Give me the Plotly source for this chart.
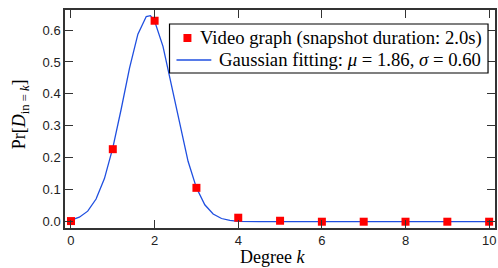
import plotly.graph_objects as go

# Data
degree_k = [0, 1, 2, 3, 4, 5, 6, 7, 8, 9, 10]
pr_video = [0.002, 0.227, 0.629, 0.106, 0.0125, 0.003, 0.0, 0.0, 0.0, 0.0, 0.0]

fit_x = [0.0, 0.2, 0.4, 0.6, 0.8, 1.0, 1.2, 1.4, 1.6, 1.8, 1.9, 2.0, 2.2, 2.4, 2.6,
         2.8, 3.0, 3.2, 3.4, 3.6, 3.8, 4.0, 4.5, 5.0, 6.0, 7.0, 8.0, 9.0, 10.0]
fit_y = [0.005, 0.014, 0.033, 0.071, 0.135, 0.231, 0.352, 0.481, 0.587, 0.642, 0.645,
         0.628, 0.549, 0.430, 0.301, 0.189, 0.106, 0.053, 0.024, 0.010, 0.004, 0.001,
         0.0, 0.0, 0.0, 0.0, 0.0, 0.0, 0.0]

x_ticks = [0, 2, 4, 6, 8, 10]
y_ticks = [0.0, 0.1, 0.2, 0.3, 0.4, 0.5, 0.6]

legend_labels = ["Video graph (snapshot duration: 2.0s)",
                 "Gaussian fitting: <i>μ</i> = 1.86, <i>σ</i> = 0.60"]

RED = "#ff0000"
BLUE = "#1f4fe0"
AXIS = "#333333"
SERIF = "Liberation Serif, Times New Roman, serif"
SANS = "Liberation Sans, Arial, sans-serif"

fig = go.Figure()
fig.add_trace(go.Scatter(x=fit_x, y=fit_y, mode="lines",
                         line=dict(color=BLUE, width=1.3), showlegend=False))
fig.add_trace(go.Scatter(x=degree_k, y=pr_video, mode="markers",
                         marker=dict(symbol="square", size=8, color=RED, line=dict(width=0)),
                         showlegend=False, cliponaxis=False))

W, H = 498, 268
L, R, T, B = 65, 1, 10, 40
pw, ph = W - L - R, H - T - B


def px(x):
    return (x - L) / pw


def py(y):
    return (H - B - y) / ph


axis_common = dict(showline=True, linecolor=AXIS, linewidth=1.5, mirror="ticks",
                   ticks="inside", ticklen=8, tickwidth=1.2, tickcolor=AXIS,
                   showgrid=False, zeroline=False, ticklabeloverflow="allow",
                   tickfont=dict(family=SANS, size=13, color="#222222"))

fig.update_layout(
    width=W, height=H,
    margin=dict(l=L, r=R, t=T, b=B),
    paper_bgcolor="white", plot_bgcolor="white",
    xaxis=dict(range=[-0.143, 10.14], tickvals=x_ticks, ticktext=[str(v) for v in x_ticks],
               **axis_common),
    yaxis=dict(range=[-0.0197, 0.6626], tickvals=y_ticks,
               ticktext=[f"{v:.1f}" for v in y_ticks], **axis_common),
    showlegend=False,
)

# Manual legend (right-aligned text as in the reference)
fig.add_shape(type="rect", xref="paper", yref="paper",
              x0=px(170), x1=px(490), y0=py(73), y1=py(24),
              line=dict(color="#000000", width=1.2), fillcolor="white", layer="above")
fig.add_shape(type="rect", xref="paper", yref="paper",
              x0=px(184), x1=px(192), y0=py(42), y1=py(34),
              line=dict(width=0), fillcolor=RED, layer="above")
fig.add_shape(type="line", xref="paper", yref="paper",
              x0=px(177), x1=px(212), y0=py(60), y1=py(60),
              line=dict(color=BLUE, width=1.3), layer="above")
fig.add_annotation(x=px(486), y=py(38), xref="paper", yref="paper", text=legend_labels[0],
                   showarrow=False, xanchor="right", yanchor="middle",
                   font=dict(family=SERIF, size=18.7, color="#000000"))
fig.add_annotation(x=px(485), y=py(60), xref="paper", yref="paper", text=legend_labels[1],
                   showarrow=False, xanchor="right", yanchor="middle",
                   font=dict(family=SERIF, size=18.7, color="#000000"))

# Axis titles
fig.add_annotation(x=px(273.5), y=py(257), xref="paper", yref="paper",
                   text="Degree <i>k</i>", showarrow=False, xanchor="center", yanchor="middle",
                   font=dict(family=SERIF, size=18, color="#000000"))
fig.add_annotation(x=px(20), y=py(114), xref="paper", yref="paper",
                   text="Pr[<i>D</i><sub>in = <i>k</i></sub>]", showarrow=False,
                   textangle=-90, xanchor="center", yanchor="middle",
                   font=dict(family=SERIF, size=18, color="#000000"))

fig.write_html("out.html", config={"displayModeBar": False},
               post_script="document.body.style.margin='0';")
